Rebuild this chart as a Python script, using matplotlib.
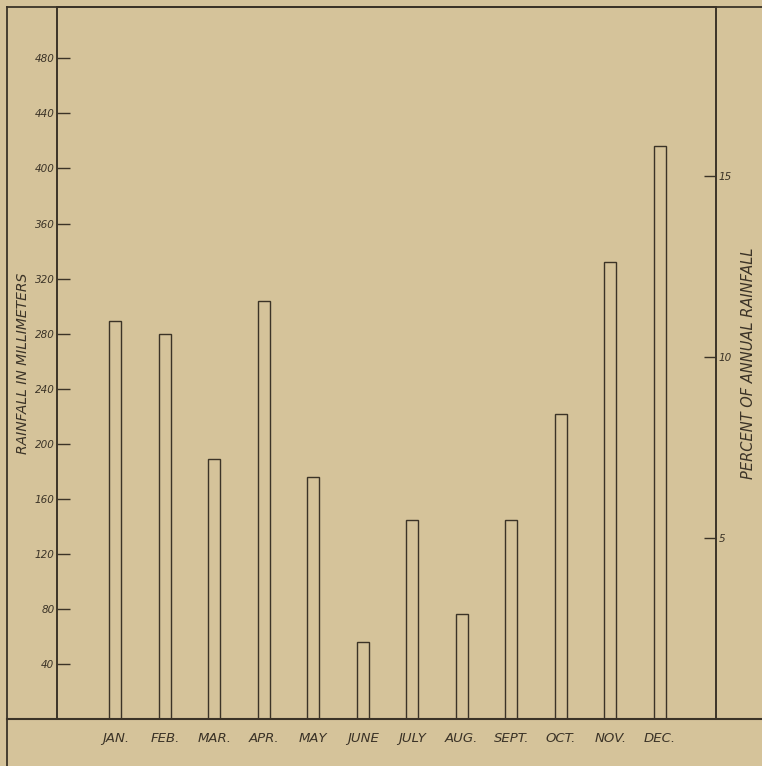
import matplotlib.pyplot as plt
from matplotlib.lines import Line2D

months = ["JAN.", "FEB.", "MAR.", "APR.", "MAY", "JUNE",
          "JULY", "AUG.", "SEPT.", "OCT.", "NOV.", "DEC."]
rainfall_mm = [289, 280, 189, 304, 176, 56, 145, 76.5, 145, 222, 332, 416]
mm_ticks = [40, 80, 120, 160, 200, 240, 280, 320, 360, 400, 440, 480]
pct_ticks = [5, 10, 15]

paper = "#d5c39a"
ink = "#3b3327"

W, H = 762, 766
fig = plt.figure(figsize=(W / 100, H / 100), dpi=100, facecolor=paper)

# plot box in pixel coords
left, right, top, base = 56.5, 716.3, 7.0, 719.4
ax = fig.add_axes([left / W, 1 - base / H, (right - left) / W, (base - top) / H])
ax.set_facecolor(paper)

x = list(range(len(months)))
ax.bar(x, rainfall_mm, width=0.24, fill=False, edgecolor=ink, linewidth=1.0)

ymax = 517.2
ax.set_ylim(0, ymax)
ax.set_xlim(-1.19, 12.14)

ax.set_yticks(mm_ticks)
ax.set_yticklabels([str(t) for t in mm_ticks], fontsize=7.5, style="italic", color=ink)
ax.tick_params(axis="y", direction="in", length=9, width=1, color=ink, pad=1.5)

ax.set_xticks(x)
ax.set_xticklabels(months, fontsize=9.5, style="italic", color=ink)
ax.tick_params(axis="x", length=0, pad=9)

ax.set_ylabel("RAINFALL IN MILLIMETERS", fontsize=10, style="italic", color=ink, labelpad=3)

for s in ax.spines.values():
    s.set_color(ink)
    s.set_linewidth(1.2)

# percent of annual total on the right
total = sum(rainfall_mm)
ax2 = ax.twinx()
ax2.set_ylim(0, ymax * 100 / total)
ax2.set_yticks(pct_ticks)
ax2.set_yticklabels([str(t) for t in pct_ticks], fontsize=7.5, style="italic", color=ink)
ax2.tick_params(axis="y", direction="in", length=9, width=1, color=ink, pad=1.5)
ax2.set_ylabel("PERCENT OF ANNUAL RAINFALL", fontsize=10.5, style="italic", color=ink, labelpad=7)
for s in ax2.spines.values():
    s.set_color(ink)
    s.set_linewidth(1.2)

# outer frame lines
def px_line(x0, y0, x1, y1, lw=1.3):
    fig.add_artist(Line2D([x0 / W, x1 / W], [1 - y0 / H, 1 - y1 / H],
                          transform=fig.transFigure, color=ink, linewidth=lw))

px_line(7, top, W, top)
px_line(7, base, W, base, lw=1.5)
px_line(7, top, 7, H)

fig.savefig("out.png", dpi=100, facecolor=paper)
